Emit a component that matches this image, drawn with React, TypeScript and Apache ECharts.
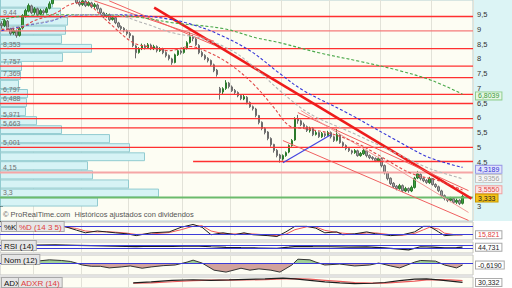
import React, { useEffect, useRef } from 'react';
import * as echarts from 'echarts';

const FONT = '"Liberation Sans", Arial, sans-serif';

// trading days (dates are not printed on the reference)
const days: string[] = Array.from({ length: 158 }, (_, i) => 'd' + (i + 1));

// [open, close, low, high]
const candles: number[][] = [
  [9.20, 9.13, 9.02, 9.28], [9.13, 9.30, 9.08, 9.36], [9.28, 9.03, 8.98, 9.32], [9.02, 8.86, 8.80, 9.06],
  [8.88, 8.96, 8.82, 9.04], [8.95, 8.79, 8.72, 9.00], [8.80, 9.03, 8.76, 9.08], [9.05, 9.47, 9.00, 9.52],
  [9.45, 9.64, 9.40, 9.70], [9.62, 9.81, 9.58, 9.88], [9.80, 9.57, 9.52, 9.84], [9.58, 9.70, 9.50, 9.76],
  [9.70, 9.50, 9.45, 9.74], [9.52, 9.64, 9.48, 9.70], [9.63, 9.57, 9.50, 9.68], [9.58, 9.70, 9.54, 9.76],
  [9.72, 9.87, 9.68, 9.95], [9.88, 10.14, 9.85, 10.20], [10.12, 10.31, 10.08, 10.36], [10.30, 10.48, 10.25, 10.55],
  [10.46, 10.38, 10.30, 10.52], [10.40, 10.58, 10.35, 10.62], [10.56, 10.45, 10.38, 10.60], [10.44, 10.25, 10.20, 10.48],
  [10.26, 10.08, 10.02, 10.30], [10.06, 9.91, 9.86, 10.10], [9.92, 9.84, 9.78, 9.98], [9.85, 9.97, 9.80, 10.02],
  [9.95, 9.81, 9.76, 10.00], [9.82, 9.91, 9.78, 9.96], [9.90, 9.77, 9.72, 9.94], [9.78, 9.84, 9.70, 9.90],
  [9.83, 9.70, 9.64, 9.88], [9.70, 9.57, 9.50, 9.74], [9.56, 9.43, 9.38, 9.60], [9.44, 9.50, 9.40, 9.56],
  [9.50, 9.33, 9.28, 9.54], [9.34, 9.40, 9.30, 9.46], [9.40, 9.23, 9.18, 9.44], [9.22, 9.09, 9.04, 9.26],
  [9.10, 9.03, 8.96, 9.14], [9.04, 8.96, 8.90, 9.08], [8.96, 8.86, 8.80, 9.00], [8.86, 8.79, 8.70, 8.92],
  [8.78, 8.45, 8.40, 8.80], [8.44, 8.21, 8.02, 8.48], [8.22, 8.35, 8.18, 8.40], [8.36, 8.45, 8.30, 8.52],
  [8.44, 8.38, 8.32, 8.50], [8.38, 8.48, 8.34, 8.54], [8.47, 8.35, 8.30, 8.52], [8.36, 8.42, 8.30, 8.48],
  [8.42, 8.28, 8.22, 8.46], [8.28, 8.35, 8.24, 8.40], [8.34, 8.21, 8.16, 8.38], [8.22, 8.11, 8.05, 8.26],
  [8.12, 8.01, 7.95, 8.15], [8.00, 7.87, 7.80, 8.04], [7.88, 8.14, 7.85, 8.18], [8.14, 8.28, 8.10, 8.32],
  [8.27, 8.21, 8.15, 8.32], [8.22, 8.35, 8.18, 8.40], [8.36, 8.55, 8.32, 8.60], [8.56, 8.75, 8.52, 8.90],
  [8.74, 8.69, 8.60, 8.82], [8.68, 8.48, 8.44, 8.72], [8.46, 8.21, 8.16, 8.50], [8.22, 8.11, 8.06, 8.28],
  [8.12, 8.01, 7.96, 8.16], [8.02, 7.94, 7.88, 8.06], [7.95, 7.81, 7.76, 7.98], [7.80, 7.60, 7.55, 7.84],
  [7.62, 7.47, 7.40, 7.66], [7.00, 6.86, 6.62, 7.05], [6.88, 6.99, 6.80, 7.04], [7.00, 7.19, 6.95, 7.28],
  [7.18, 7.06, 7.00, 7.22], [7.05, 6.92, 6.88, 7.10], [6.93, 6.86, 6.80, 6.98], [6.86, 6.75, 6.70, 6.90],
  [6.76, 6.65, 6.60, 6.80], [6.64, 6.72, 6.60, 6.78], [6.70, 6.52, 6.46, 6.74], [6.52, 6.38, 6.34, 6.56],
  [6.38, 6.31, 6.25, 6.42], [6.30, 6.08, 6.02, 6.34], [6.08, 5.84, 5.78, 6.10], [5.85, 5.64, 5.58, 5.88],
  [5.64, 5.50, 5.44, 5.68], [5.52, 5.30, 5.24, 5.55], [5.30, 5.09, 5.02, 5.34], [5.10, 4.89, 4.82, 5.12],
  [4.90, 4.72, 4.66, 4.94], [4.74, 4.62, 4.48, 4.78], [4.60, 4.72, 4.55, 4.76], [4.72, 4.82, 4.68, 4.86],
  [4.84, 5.06, 4.80, 5.10], [5.06, 5.23, 5.02, 5.28], [5.25, 5.97, 5.22, 6.02], [5.98, 5.90, 5.80, 6.10],
  [5.90, 5.77, 5.72, 5.94], [5.78, 5.70, 5.64, 5.84], [5.70, 5.57, 5.52, 5.74], [5.56, 5.64, 5.50, 5.70],
  [5.64, 5.43, 5.38, 5.68], [5.44, 5.50, 5.40, 5.56], [5.50, 5.36, 5.32, 5.54], [5.36, 5.47, 5.32, 5.52],
  [5.46, 5.40, 5.34, 5.50], [5.40, 5.50, 5.36, 5.56], [5.50, 5.36, 5.30, 5.54], [5.36, 5.23, 5.18, 5.40],
  [5.24, 5.43, 5.20, 5.62], [5.42, 5.16, 5.12, 5.46], [5.16, 5.06, 5.00, 5.20], [5.06, 4.96, 4.90, 5.10],
  [4.96, 4.89, 4.84, 5.00], [4.88, 4.82, 4.76, 4.92], [4.82, 4.89, 4.78, 4.94], [4.88, 4.72, 4.68, 4.92],
  [4.72, 4.79, 4.68, 4.84], [4.78, 4.89, 4.74, 4.94], [4.88, 4.72, 4.66, 4.92], [4.72, 4.65, 4.60, 4.76],
  [4.66, 4.62, 4.56, 4.70], [4.62, 4.55, 4.50, 4.66], [4.54, 4.62, 4.50, 4.68], [4.62, 4.38, 4.32, 4.66],
  [4.38, 4.14, 4.08, 4.42], [4.14, 3.94, 3.88, 4.18], [3.95, 3.77, 3.72, 3.98], [3.78, 3.67, 3.62, 3.82],
  [3.68, 3.60, 3.54, 3.72], [3.60, 3.70, 3.56, 3.76], [3.70, 3.53, 3.48, 3.74], [3.52, 3.60, 3.48, 3.66],
  [3.60, 3.53, 3.46, 3.64], [3.52, 3.64, 3.48, 3.70], [3.64, 3.95, 3.60, 4.00], [3.96, 4.10, 3.92, 4.20],
  [4.08, 3.94, 3.88, 4.12], [3.94, 3.87, 3.82, 3.98], [3.88, 3.81, 3.76, 3.92], [3.80, 3.94, 3.76, 4.00],
  [3.94, 3.74, 3.70, 3.96], [3.74, 3.67, 3.62, 3.78], [3.66, 3.53, 3.48, 3.70], [3.52, 3.36, 3.30, 3.56],
  [3.36, 3.26, 3.20, 3.40], [3.26, 3.20, 3.14, 3.30], [3.20, 3.26, 3.14, 3.32], [3.26, 3.13, 3.08, 3.30],
  [3.14, 3.20, 3.08, 3.26], [3.20, 3.09, 3.04, 3.24], [3.10, 3.33, 3.06, 3.38],
];
const lastClose = 3.333;

// moving averages, as [day index, value]
const ma20: number[][] = [[0, 9.0], [6, 9.05], [11, 9.3], [18, 9.55], [23, 9.85], [28, 9.92], [32, 9.6], [36, 9.22], [44, 8.55], [50, 8.4], [56, 8.28], [63, 8.42], [68, 8.28], [76, 7.84], [84, 7.16], [91, 6.35], [96, 5.74], [101, 5.64], [110, 5.47], [119, 5.13], [125, 4.79], [137, 4.11], [146, 3.87], [154, 3.555]];
const ma50: number[][] = [[0, 9.03], [13, 9.23], [27, 9.5], [37, 9.5], [47, 9.23], [57, 8.89], [67, 8.69], [77, 8.28], [85, 7.67], [93, 6.92], [103, 6.14], [117, 5.5], [132, 4.79], [143, 4.28], [154, 3.9356]];
const ma100: number[][] = [[0, 8.96], [8, 9.13], [17, 9.3], [22, 9.47], [33, 9.5], [47, 9.47], [57, 9.33], [63, 9.19], [72, 8.86], [83, 8.28], [93, 7.5], [101, 6.92], [116, 6.14], [132, 5.23], [143, 4.65], [154, 4.3189]];
const ma200: number[][] = [[0, 9.33], [8, 9.47], [20, 9.5], [33, 9.5], [47, 9.4], [57, 9.23], [74, 9.03], [85, 8.72], [93, 8.55], [106, 8.21], [120, 7.91], [133, 7.6], [144, 7.26], [154, 6.8039]];

// support / resistance levels
const levelValues = [9.44, 8.95, 8.353, 7.757, 7.369, 6.797, 6.488, 5.971, 5.663, 5.001];
const levelLabels = ['9,44', '', '8,353', '7,757', '7,369', '6,797', '6,488', '5,971', '5,663', '5,001'];
const pinkLevel = 4.15;
const greenLevel = 3.3;
const partialLevel = { from: 64, value: 4.52 };

// trend lines: [startIdx, startPrice, endIdx, endPrice]
const thickTrend = [51, 9.74, 157, 3.26];
const thinTrends: number[][] = [
  [31, 9.97, 71, 8.6],
  [36, 9.97, 71, 8.47],
  [99, 6.18, 156, 3.53],
  [94, 5.23, 156, 2.52],
  [100, 6.25, 156, 2.79],
];
const blueTrend = [94, 4.48, 110, 5.43];

// volume by price: [low, high, volume]
const profile: number[][] = [
  [9.74, 10.05, 52], [9.43, 9.74, 60], [9.13, 9.43, 67], [8.82, 9.13, 65], [8.51, 8.82, 61],
  [8.21, 8.51, 91], [7.9, 8.21, 62], [7.59, 7.9, 21], [7.29, 7.59, 20], [6.98, 7.29, 18],
  [6.67, 6.98, 27], [6.37, 6.67, 26], [6.06, 6.37, 25], [5.75, 6.06, 36], [5.45, 5.75, 61],
  [5.14, 5.45, 109], [4.83, 5.14, 129], [4.53, 4.83, 144], [4.22, 4.53, 87], [3.91, 4.22, 92],
  [3.6, 3.91, 128], [3.3, 3.6, 158], [2.99, 3.3, 97],
];

// indicators, as [day index, value]
const stochK: number[][] = [[20, 88], [25, 52], [28, 31], [32, 45], [35, 38], [38, 31], [42, 23], [45, 9], [50, 31], [56, 38], [60, 74], [64, 96], [67, 74], [70, 16], [74, 31], [78, 16], [81, 31], [84, 16], [89, 9], [92, 2], [95, 38], [98, 81], [102, 81], [105, 67], [108, 31], [112, 38], [114, 16], [118, 23], [122, 38], [125, 23], [130, 9], [134, 16], [138, 38], [141, 81], [143, 81], [146, 38], [148, 9], [152, 16], [154, 15.821]];
const stochD: number[][] = [[20, 80], [25, 65], [28, 45], [32, 38], [35, 40], [38, 36], [42, 28], [45, 18], [50, 22], [56, 33], [60, 55], [64, 82], [67, 86], [70, 45], [74, 25], [78, 22], [81, 24], [84, 22], [89, 14], [92, 8], [95, 20], [98, 55], [102, 78], [105, 76], [108, 50], [112, 34], [114, 28], [118, 20], [122, 30], [125, 30], [130, 16], [134, 12], [138, 26], [141, 55], [143, 74], [146, 60], [148, 28], [152, 14], [154, 16]];
const rsi: number[][] = [[11, 68], [18, 72], [25, 66], [30, 62], [38, 58], [45, 52], [50, 58], [57, 54], [64, 60], [70, 50], [75, 44], [80, 40], [86, 36], [92, 33], [96, 45], [99, 55], [104, 52], [110, 50], [116, 46], [122, 48], [128, 38], [133, 22], [136, 14], [140, 50], [144, 46], [148, 38], [152, 40], [154, 44.731]];
const mom: number[][] = [[12, 0.62], [16, 1.0], [20, 0.8], [23, 0.5], [25, 0], [27, -0.6], [30, -1.0], [33, -1.0], [36, -1.5], [40, -1.2], [43, -0.9], [47, -1.6], [50, -1.2], [54, -0.8], [58, -0.6], [62, 0.3], [64, 0.9], [67, 0], [71, -2.2], [75, -2.8], [80, -1.6], [83, -2.2], [86, -1.8], [90, -2.2], [93, -2.8], [97, -0.6], [99, 1.2], [103, 1.0], [105, 0.3], [108, -0.6], [113, -0.3], [118, -0.9], [123, -0.6], [126, 0], [130, -0.9], [133, -1.5], [138, 0.3], [140, 0.8], [145, 0.6], [148, -0.6], [152, -1.5], [154, -0.619]];
const adx: number[][] = [[44, 28], [50, 33], [57, 42], [64, 45], [70, 42], [76, 44], [82, 47], [88, 50], [94, 54], [98, 50], [103, 42], [108, 33], [113, 28], [118, 24], [124, 26], [128, 30], [133, 40], [138, 48], [142, 50], [146, 44], [150, 38], [154, 30.332]];
const adxr: number[][] = [[44, 26], [50, 28], [57, 34], [64, 40], [70, 43], [76, 43], [82, 44], [88, 46], [94, 50], [98, 51], [103, 48], [108, 42], [113, 36], [118, 30], [124, 27], [128, 27], [133, 32], [138, 38], [142, 44], [146, 46], [150, 44], [154, 40]];

const monthLines = [11, 27, 43, 61, 77, 94, 110, 127, 144];

const PLOT_W = 473;
const NOM_MIN = -3.7;
const NOM_MAX = 2.5;
const NOM_TOP = 255;
const NOM_H = 20;

const fmt = (v: number, d: number) => v.toFixed(d).replace('.', ',');
const last = (a: number[][]) => a[a.length - 1][1];

const HIDDEN = { color: 'rgba(0,0,0,0)', width: 0, type: 'solid' };

function valueTag(value: number, text: string, color: string, bg: string, border: string, dy = 0) {
  return {
    yAxis: value,
    lineStyle: HIDDEN,
    label: {
      show: true,
      position: 'end',
      distance: 3,
      offset: [0, dy],
      formatter: text,
      color,
      backgroundColor: bg,
      borderColor: border,
      borderWidth: 1,
      padding: [0, 2, 0, 2],
      lineHeight: 7,
      fontSize: 7,
      fontFamily: FONT,
    },
  };
}

function seg(t: number[], color: string, width: number) {
  return [
    { coord: [t[0], t[1]], lineStyle: { color, width, type: 'solid' }, label: { show: false } },
    { coord: [t[2], t[3]] },
  ];
}

function boxText(text: string, x: number, y: number, color: string) {
  return {
    type: 'text',
    x,
    y,
    z: 20,
    silent: true,
    style: {
      text,
      fill: color,
      font: `8px ${FONT}`,
      verticalAlign: 'top',
      backgroundColor: '#e6e6e6',
      borderColor: '#a8a8a8',
      borderWidth: 1,
      padding: [1, 2, 0, 2],
    },
  };
}

// horizontal levels: [price, start day index, full width (1) or partial (0)]
const levelRows: number[][] = [
  ...levelValues.map((v) => [v, 0, 1]),
  [pinkLevel, 0, 1],
  [greenLevel, 0, 1],
  [partialLevel.value, partialLevel.from, 0],
];
function levelStyle(i: number) {
  if (i < levelValues.length) return { color: i === 1 ? '#f47a7a' : '#ff3030', width: 1.3, label: levelLabels[i] };
  if (i === levelValues.length) return { color: '#f5a6a6', width: 2, label: fmt(pinkLevel, 2) };
  if (i === levelValues.length + 1) return { color: '#6cbb6c', width: 2, label: fmt(greenLevel, 1) };
  return { color: '#ff3030', width: 1.3, label: '' };
}

// prices that carry a value tag on the right scale (their tick labels are covered)
const tagValues = [last(ma200), last(ma100), last(ma50), last(ma20), lastClose];

export default function App() {
  const ref = useRef<HTMLDivElement>(null);

  useEffect(() => {
    if (!ref.current) return;
    const chart = echarts.init(ref.current, undefined, { renderer: 'svg' });

    const catAxis = (gridIndex: number) => ({
      type: 'category',
      gridIndex,
      data: days,
      boundaryGap: true,
      axisLine: { show: false },
      axisTick: { show: false },
      axisLabel: { show: false },
      splitLine: {
        show: true,
        interval: (index: number) => monthLines.indexOf(index) >= 0,
        lineStyle: { color: '#e2e2d8', width: 1 },
      },
    });

    const panel = (top: number, height: number) => ({
      left: 0,
      top,
      width: PLOT_W,
      height,
      show: true,
      backgroundColor: '#fdfdf3',
      borderColor: '#c4c4c4',
      borderWidth: 1,
    });

    const hideY = (gridIndex: number, min: number, max: number) => ({
      type: 'value',
      gridIndex,
      min,
      max,
      axisLine: { show: false },
      axisTick: { show: false },
      axisLabel: { show: false },
      splitLine: { show: false },
    });

    const maSeries = (data: number[][], color: string, textColor: string, bg: string, border: string, z: number, dy = 0) => ({
      type: 'line',
      xAxisIndex: 0,
      yAxisIndex: 0,
      data,
      smooth: 0.35,
      symbol: 'none',
      z,
      clip: true,
      lineStyle: { color, width: 1.1, type: [3, 2] },
      markLine: {
        silent: true,
        symbol: ['none', 'none'],
        data: [valueTag(last(data), fmt(last(data), 4), textColor, bg, border, dy)],
      },
    });

    const zeroFrac = NOM_MAX / (NOM_MAX - NOM_MIN);

    const option: any = {
      animation: false,
      backgroundColor: '#ffffff',
      grid: [
        { left: 0, top: -1, width: PLOT_W, height: 222, show: true, backgroundColor: '#fdfdf3', borderColor: '#b4cfd2', borderWidth: 1 },
        panel(222, 18),
        panel(242, 11),
        panel(NOM_TOP, NOM_H),
        panel(277, 20),
      ],
      xAxis: [
        catAxis(0), catAxis(1), catAxis(2), catAxis(3), catAxis(4),
        { type: 'value', gridIndex: 0, min: 0, max: PLOT_W, show: false },
      ],
      yAxis: [
        {
          type: 'value',
          gridIndex: 0,
          position: 'right',
          min: 2.5,
          max: 10,
          interval: 0.5,
          axisLine: { show: true, lineStyle: { color: '#9fc4c8' } },
          axisTick: { show: true, length: 3, lineStyle: { color: '#555' } },
          axisLabel: {
            margin: 4,
            fontSize: 7.5,
            lineHeight: 7,
            color: '#333',
            fontFamily: FONT,
            formatter: (v: number) => {
              if (v >= 10 || v <= 2.5) return '';
              if (tagValues.some((t) => Math.abs(t - v) < 0.12)) return '';
              return String(v).replace('.', ',');
            },
          },
          splitLine: { show: false },
        },
        hideY(1, -25, 115),
        hideY(2, -21, 104),
        hideY(3, NOM_MIN, NOM_MAX),
        hideY(4, 0, 60),
      ],
      series: [
        {
          type: 'custom',
          xAxisIndex: 5,
          yAxisIndex: 0,
          z: 1,
          clip: true,
          silent: true,
          data: profile,
          encode: { x: 2, y: [0, 1] },
          renderItem: (_p: any, api: any) => {
            const lo = api.value(0);
            const hi = api.value(1);
            const vol = api.value(2);
            const a = api.coord([0, hi]);
            const b = api.coord([vol, lo]);
            return {
              type: 'rect',
              shape: { x: a[0] + 0.5, y: a[1] + 0.5, width: b[0] - a[0], height: b[1] - a[1] - 1 },
              style: { fill: '#d6f3f5', stroke: '#92cbd0', lineWidth: 1 },
            };
          },
        },
        {
          type: 'candlestick',
          xAxisIndex: 0,
          yAxisIndex: 0,
          data: candles,
          barWidth: 2,
          z: 3,
          clip: true,
          itemStyle: {
            color: '#3f9f3f',
            color0: '#a4a4a4',
            borderColor: '#2b7a2b',
            borderColor0: '#6c6c6c',
            borderWidth: 1,
          },
        },
        // horizontal levels
        {
          type: 'custom',
          xAxisIndex: 0,
          yAxisIndex: 0,
          z: 4,
          silent: true,
          data: levelRows,
          encode: { x: 1, y: 0 },
          renderItem: (params: any, api: any) => {
            const i = params.dataIndex;
            const cs = params.coordSys;
            const v = api.value(0);
            const start = api.value(1);
            const full = api.value(2) === 1;
            const st = levelStyle(i);
            const p = api.coord([start, v]);
            const y = p[1];
            const x0 = full ? cs.x : p[0];
            const x1 = cs.x + cs.width;
            const children: any[] = [
              { type: 'line', shape: { x1: x0, y1: y, x2: x1, y2: y }, style: { stroke: st.color, lineWidth: st.width } },
            ];
            if (st.label) {
              children.push({
                type: 'text',
                x: x0 + 3,
                y: y - 1,
                style: { text: st.label, fill: '#707070', font: `7px ${FONT}`, verticalAlign: 'bottom' },
              });
            }
            return { type: 'group', children };
          },
        },
        // trend lines
        {
          type: 'line',
          xAxisIndex: 0,
          yAxisIndex: 0,
          data: [],
          z: 4,
          silent: true,
          markLine: {
            silent: true,
            symbol: ['none', 'none'],
            data: [
              seg(thickTrend, '#ee1c1c', 2.5),
              ...thinTrends.map((t, i) => seg(t, i === 4 ? '#f29a9a' : '#f06060', 1)),
              seg(blueTrend, '#4646e0', 1.2),
            ],
          },
        },
        maSeries(ma200, '#4aa84a', '#3a9a3a', '#e6f6e4', '#8fce8f', 5, 1.6),
        maSeries(ma100, '#3434d6', '#3434d6', '#e2e4fb', '#9a9ae6', 6, 2),
        maSeries(ma50, '#b4b4b4', '#a0a0a0', '#f6f6f6', '#c8c8c8', 7),
        maSeries(ma20, '#e04848', '#e04848', '#fbe4e4', '#f0a0a0', 8),
        // last close tag
        {
          type: 'line',
          xAxisIndex: 0,
          yAxisIndex: 0,
          data: [],
          z: 9,
          silent: true,
          markLine: {
            silent: true,
            symbol: ['none', 'none'],
            data: [valueTag(lastClose, fmt(lastClose, 3), '#222', '#f6c21a', '#c89800', 1.5)],
          },
        },
        // stochastic
        {
          type: 'line', xAxisIndex: 1, yAxisIndex: 1, data: stochD, symbol: 'none', z: 3,
          lineStyle: { color: '#ec5a5a', width: 1 },
        },
        {
          type: 'line', xAxisIndex: 1, yAxisIndex: 1, data: stochK, symbol: 'none', z: 4,
          lineStyle: { color: '#1e1e1e', width: 1 },
          markLine: {
            silent: true, symbol: ['none', 'none'],
            data: [
              { yAxis: 80, lineStyle: { color: '#3c3cd8', width: 1, type: 'solid' }, label: { show: false } },
              { yAxis: 20, lineStyle: { color: '#3c3cd8', width: 1, type: 'solid' }, label: { show: false } },
              valueTag(last(stochK), fmt(last(stochK), 3), '#e04040', '#ffffff', '#a8a8a8'),
            ],
          },
        },
        // RSI
        {
          type: 'line', xAxisIndex: 2, yAxisIndex: 2, data: rsi, symbol: 'none', z: 4,
          lineStyle: { color: '#1e1e1e', width: 1.2 },
          markLine: {
            silent: true, symbol: ['none', 'none'],
            data: [
              { yAxis: 70, lineStyle: { color: '#3c3cd8', width: 1, type: 'solid' }, label: { show: false } },
              { yAxis: 30, lineStyle: { color: '#3c3cd8', width: 1, type: 'solid' }, label: { show: false } },
              valueTag(last(rsi), fmt(last(rsi), 3), '#222', '#ffffff', '#a8a8a8'),
            ],
          },
        },
        // Momentum
        {
          type: 'line', xAxisIndex: 3, yAxisIndex: 3, data: mom, symbol: 'none', z: 4,
          lineStyle: { color: '#333', width: 1 },
          areaStyle: {
            origin: 0,
            opacity: 1,
            color: new echarts.graphic.LinearGradient(0, NOM_TOP, 0, NOM_TOP + NOM_H, [
              { offset: 0, color: '#9fcf97' },
              { offset: zeroFrac, color: '#9fcf97' },
              { offset: zeroFrac, color: '#d2a29c' },
              { offset: 1, color: '#d2a29c' },
            ], true),
          },
          markLine: {
            silent: true, symbol: ['none', 'none'],
            data: [
              { yAxis: 0, lineStyle: { color: '#3c3cd8', width: 1, type: 'solid' }, label: { show: false } },
              valueTag(last(mom), fmt(last(mom), 4), '#222', '#ffffff', '#a8a8a8'),
            ],
          },
        },
        // ADX / ADXR
        {
          type: 'line', xAxisIndex: 4, yAxisIndex: 4, data: adxr, symbol: 'none', z: 3,
          lineStyle: { color: '#ec5a5a', width: 1.2 },
        },
        {
          type: 'line', xAxisIndex: 4, yAxisIndex: 4, data: adx, symbol: 'none', z: 4,
          lineStyle: { color: '#1e1e1e', width: 1.2 },
          markLine: {
            silent: true, symbol: ['none', 'none'],
            data: [valueTag(last(adx), fmt(last(adx), 3), '#222', '#ffffff', '#a8a8a8')],
          },
        },
      ],
      graphic: [
        { type: 'rect', z: -1, silent: true, shape: { x: PLOT_W, y: 0, width: 512 - PLOT_W, height: 221 }, style: { fill: '#dcf4f5' } },
        {
          type: 'text', x: 3, y: 210, z: 20, silent: true,
          style: { text: '© ProRealTime.com  Históricos ajustados con dividendos', fill: '#555', font: `7.5px ${FONT}`, verticalAlign: 'top' },
        },
        boxText('%K', 2, 222, '#111'),
        boxText('%D (14 3 5)', 17, 222, '#e03c3c'),
        boxText('RSI (14)', 2, 241, '#111'),
        boxText('Nom (12)', 2, 255, '#111'),
        boxText('ADX', 2, 278, '#111'),
        boxText('ADXR (14)', 19, 278, '#e03c3c'),
      ],
    };

    chart.setOption(option);
    return () => chart.dispose();
  }, []);

  return (
    <div
      ref={ref}
      style={{ position: 'absolute', left: 0, top: 0, width: 512, height: 288, overflow: 'hidden' }}
    />
  );
}
